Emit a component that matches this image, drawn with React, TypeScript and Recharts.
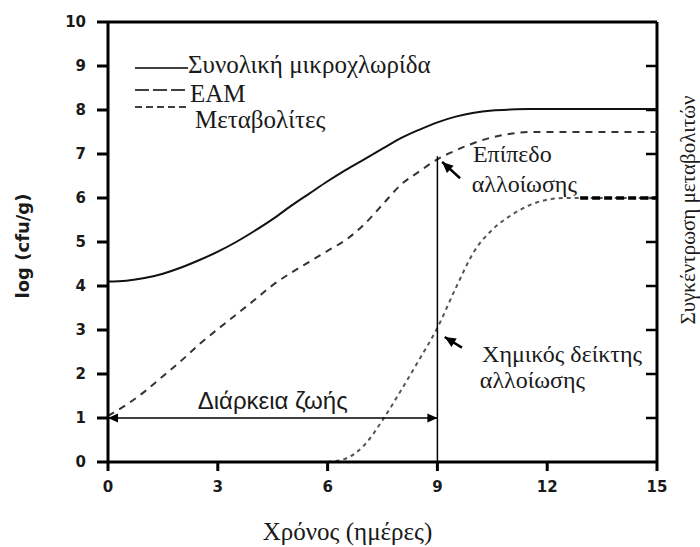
import React from 'react';
import { LineChart, Line, XAxis, YAxis, ReferenceLine, ReferenceDot, Legend } from 'recharts';

// time axis (days), half-day steps
const days = [0, 0.5, 1, 1.5, 2, 2.5, 3, 3.5, 4, 4.5, 5, 5.5, 6, 6.5, 7, 7.5, 8, 8.5, 9, 9.5, 10, 10.5, 11, 11.5, 12, 12.5, 13, 13.5, 14, 14.5, 15];

const totalFlora = [4.1, 4.12, 4.18, 4.28, 4.42, 4.59, 4.78, 5.0, 5.25, 5.52, 5.82, 6.1, 6.38, 6.64, 6.88, 7.12, 7.36, 7.55, 7.72, 7.85, 7.94, 7.99, 8.01, 8.02, 8.02, 8.02, 8.02, 8.02, 8.02, 8.02, 8.02];
const eam = [1.05, 1.3, 1.6, 1.95, 2.3, 2.68, 3.02, 3.35, 3.68, 4.02, 4.3, 4.55, 4.8, 5.05, 5.4, 5.85, 6.3, 6.6, 6.88, 7.08, 7.25, 7.38, 7.46, 7.5, 7.5, 7.5, 7.5, 7.5, 7.5, 7.5, 7.5];
const metabolites = [null, null, null, null, null, null, null, null, null, null, null, null, 0, 0.08, 0.38, 0.95, 1.62, 2.32, 3.05, 3.95, 4.78, 5.28, 5.6, 5.83, 5.96, 6.0, 6.0, 6.0, 6.0, 6.0, 6.0];

const xTicks = [0, 3, 6, 9, 12, 15];
const yTicks = [0, 1, 2, 3, 4, 5, 6, 7, 8, 9, 10];
const rightTicks = [1, 2, 3, 4, 5, 6, 7, 8, 9];

const seriesNames: Record<string, string> = {
  total: 'Συνολική μικροχλωρίδα',
  eam: 'ΕΑΜ',
  metab: 'Μεταβολίτες',
};

// annotation geometry in data units
const shelfLife = [{ x: 0, y: 1 }, { x: 9, y: 1 }];
const spoilageMark = [{ x: 9, y: 0 }, { x: 9, y: 6.95 }];
const spoilageArrow = [{ x: 9.62, y: 6.45 }, { x: 9.13, y: 6.82 }];
const chemArrow = [{ x: 9.67, y: 2.6 }, { x: 9.2, y: 2.84 }];
const metabPlateau = [{ x: 12.9, y: 6 }, { x: 15, y: 6 }];

const notes = [
  { x: 4.5, y: 1.2, text: 'Διάρκεια ζωής', sans: true },
  { x: 9.97, y: 6.82, text: 'Επίπεδο' },
  { x: 9.94, y: 6.14, text: 'αλλοίωσης' },
  { x: 10.22, y: 2.27, text: 'Χημικός δείκτης' },
  { x: 10.16, y: 1.68, text: 'αλλοίωσης' },
];

const rows = days.map((t, i) => ({ t, total: totalFlora[i], eam: eam[i], metab: metabolites[i] }));

const SERIF = 'Liberation Serif, Times New Roman, serif';
const SANS = 'Liberation Sans, Arial, sans-serif';
const INK = '#1a1a1a';

const head = (x1: number, y1: number, x2: number, y2: number, len: number, w: number) => {
  const a = Math.atan2(y2 - y1, x2 - x1);
  const bx = x2 - len * Math.cos(a);
  const by = y2 - len * Math.sin(a);
  const px = -Math.sin(a) * w;
  const py = Math.cos(a) * w;
  return `${x2},${y2} ${bx + px},${by + py} ${bx - px},${by - py}`;
};

const arrow = (both: boolean, width: number, len: number) => (p: any) => (
  <g>
    <line x1={p.x1} y1={p.y1} x2={p.x2} y2={p.y2} stroke="#000" strokeWidth={width} />
    <polygon points={head(p.x1, p.y1, p.x2, p.y2, len, len * 0.45)} fill="#000" />
    {both && <polygon points={head(p.x2, p.y2, p.x1, p.y1, len, len * 0.45)} fill="#000" />}
  </g>
);

// inward tick on the right frame edge, drawn at the scaled y of each value
const rightTick = (p: any) => {
  const xr = Math.max(Number(p.x1), Number(p.x2));
  const y = Number(p.y1);
  return <rect x={xr - 11} y={y - 1.25} width={11} height={2.5} fill="#000" />;
};

const legendRows: Record<string, { dash?: string; lineY: number; x2: number; textX: number; textY: number }> = {
  total: { lineY: 23, x2: 58, textX: 58, textY: 28 },
  eam: { dash: '14 4', lineY: 45, x2: 58, textX: 60, textY: 57 },
  metab: { dash: '7 4', lineY: 62, x2: 60, textX: 65, textY: 83 },
};

const renderLegend = (props: any) => (
  <svg width={330} height={95}>
    {(props.payload || []).map((e: any) => {
      const r = legendRows[e.dataKey];
      if (!r) return null;
      return (
        <g key={e.dataKey}>
          <line x1={5} x2={r.x2} y1={r.lineY} y2={r.lineY} stroke="#000" strokeWidth={1.6} strokeDasharray={r.dash} />
          <text x={r.textX} y={r.textY} fontFamily={SERIF} fontSize={25} fill={INK}>{e.value}</text>
        </g>
      );
    })}
  </svg>
);

const xLabel = (p: any) => {
  const vb = p.viewBox;
  return (
    <text x={vb.x + vb.width / 2 - 35} y={vb.y + 78} textAnchor="middle" fontFamily={SERIF} fontSize={25} fill={INK}>
      Χρόνος (ημέρες)
    </text>
  );
};

const leftLabel = (p: any) => {
  const vb = p.viewBox;
  const cx = vb.x + 22;
  const cy = vb.y + vb.height / 2 + 4;
  const ry = vb.y + 188;
  return (
    <g>
      <text x={cx} y={cy} transform={`rotate(-90 ${cx} ${cy})`} textAnchor="middle" dominantBaseline="central" fontFamily="DejaVu Sans, sans-serif" fontWeight="bold" fontSize={18} fill={INK}>
        log (cfu/g)
      </text>
      <text x={688} y={ry} transform={`rotate(-90 688 ${ry})`} textAnchor="middle" dominantBaseline="central" fontFamily={SERIF} fontSize={21} fill={INK}>
        Συγκέντρωση μεταβολιτών
      </text>
    </g>
  );
};

const tickFont = { fill: INK, fontSize: 15, fontWeight: 'bold', fontFamily: 'DejaVu Sans, sans-serif' };
const thick = { stroke: '#000', strokeWidth: 3 };

export default function App() {
  return (
    <div style={{ position: 'absolute', left: 0, top: 0, width: 700, height: 547, background: '#fff' }}>
      <LineChart width={700} height={547} data={rows} margin={{ top: 22, right: 43, bottom: 0, left: 0 }}>
        <XAxis
          dataKey="t"
          type="number"
          domain={[0, 15]}
          ticks={xTicks}
          interval={0}
          height={85}
          tickSize={9}
          tickMargin={10}
          axisLine={thick}
          tickLine={thick}
          tick={tickFont}
          label={xLabel}
        />
        <YAxis
          yAxisId="left"
          type="number"
          domain={[0, 10]}
          ticks={yTicks}
          interval={0}
          width={108}
          tickSize={11}
          tickMargin={11}
          axisLine={thick}
          tickLine={thick}
          tick={tickFont}
          label={leftLabel}
        />
        <ReferenceLine yAxisId="left" y={10} stroke="#000" strokeWidth={3} ifOverflow="visible" />
        <ReferenceLine yAxisId="left" x={15} stroke="#000" strokeWidth={3} ifOverflow="visible" />
        {rightTicks.map((v) => (
          <ReferenceLine key={`rt${v}`} yAxisId="left" y={v} ifOverflow="visible" shape={rightTick} />
        ))}
        <Legend layout="vertical" align="center" verticalAlign="middle" wrapperStyle={{ left: 130, top: 45, width: 330, height: 95 }} content={renderLegend} />
        <Line yAxisId="left" type="monotone" dataKey="total" name={seriesNames.total} stroke="#111" strokeWidth={2} dot={false} isAnimationActive={false} />
        <Line yAxisId="left" type="monotone" dataKey="eam" name={seriesNames.eam} stroke="#333" strokeWidth={2} strokeDasharray="7 6" dot={false} isAnimationActive={false} />
        <Line yAxisId="left" type="monotone" dataKey="metab" name={seriesNames.metab} stroke="#555" strokeWidth={2} strokeDasharray="4 4" dot={false} isAnimationActive={false} />
        <ReferenceLine yAxisId="left" segment={metabPlateau} stroke="#000" strokeWidth={3.5} strokeDasharray="8 4" ifOverflow="visible" />
        <ReferenceLine yAxisId="left" segment={spoilageMark} stroke="#000" strokeWidth={1.5} ifOverflow="visible" />
        <ReferenceLine yAxisId="left" segment={shelfLife} shape={arrow(true, 1.5, 10)} ifOverflow="visible" />
        <ReferenceLine yAxisId="left" segment={spoilageArrow} shape={arrow(false, 2.5, 11)} ifOverflow="visible" />
        <ReferenceLine yAxisId="left" segment={chemArrow} shape={arrow(false, 2.5, 11)} ifOverflow="visible" />
        {notes.map((n, i) => (
          <ReferenceDot
            key={i}
            yAxisId="left"
            x={n.x}
            y={n.y}
            r={0}
            ifOverflow="visible"
            shape={(p: any) => (
              <text x={p.cx} y={p.cy} textAnchor={n.sans ? 'middle' : 'start'} fontFamily={n.sans ? SANS : SERIF} fontSize={24} fill={INK}>
                {n.text}
              </text>
            )}
          />
        ))}
      </LineChart>
    </div>
  );
}
